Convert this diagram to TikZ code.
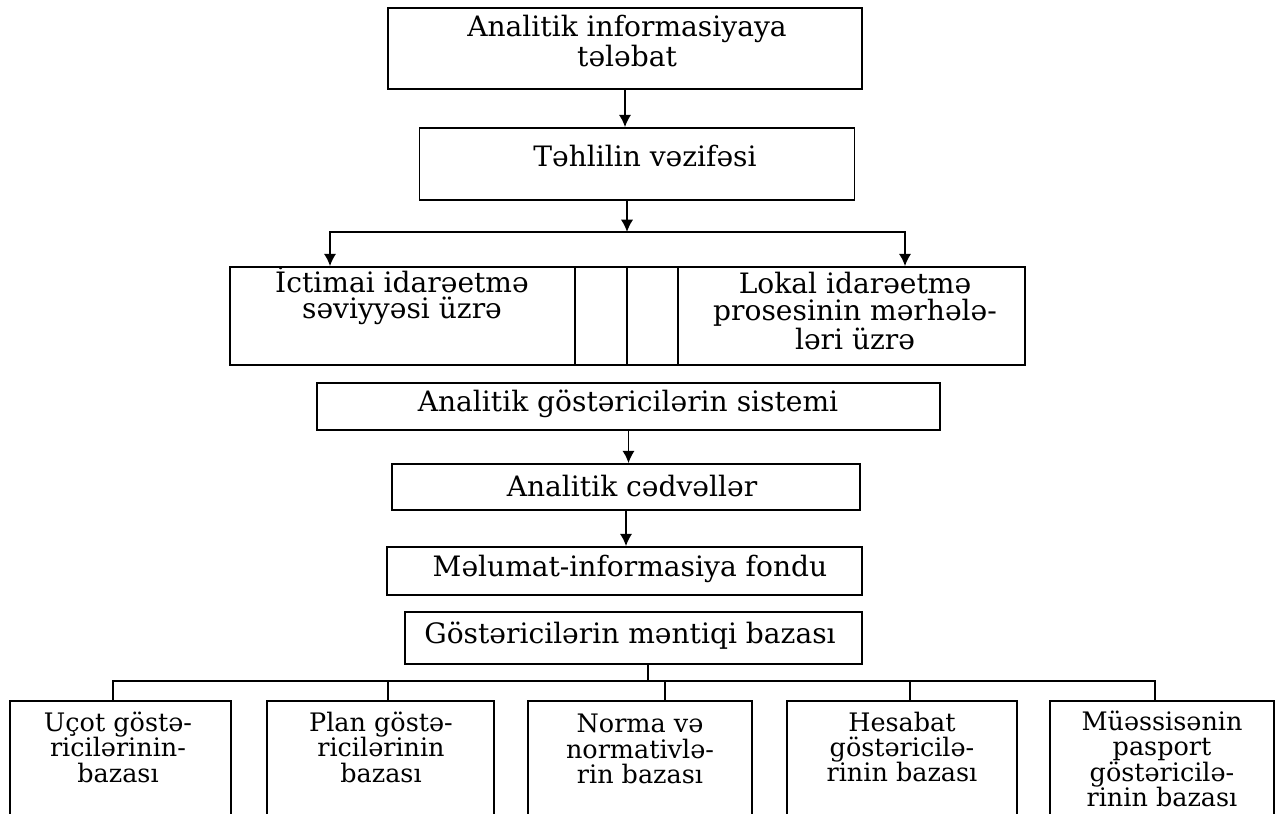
\documentclass[tikz,border=0pt]{standalone}
\usepackage{fontspec}
\setmainfont{DejaVu Serif}
\usetikzlibrary{arrows.meta}

\begin{document}
\begin{tikzpicture}[x=0.02cm, y=-0.02cm, line width=1pt,
  box/.style={draw, inner sep=0pt},
  txt/.style={align=center, inner sep=0pt, font=\fontsize{16}{15}\selectfont},
  small/.style={txt, font=\fontsize{14.5}{14.5}\selectfont},
  arr/.style={-{Latex[length=7pt,width=7pt]}}]
\useasboundingbox (0,0) rectangle (1281,814);
\clip (0,0) rectangle (1281,814);

% Top chain
\node[box, minimum width=9.48cm, minimum height=1.62cm] (need) at (625,48.5) {};
\node[txt] (need-t) at (627,41) {Analitik informasiyaya\\tələbat};
\node[box, minimum width=8.7cm, minimum height=1.44cm] (task) at (637,164) {};
\node[txt] (task-t) at (645,156) {Təhlilin vəzifəsi};
\draw[arr] (need.south) -- (need.south |- task.north);

% Two levels
\node[box, minimum width=6.9cm, minimum height=1.96cm] (soc) at (402.5,316) {};
\node[box, minimum width=1.04cm, minimum height=1.96cm] (gap1) at (601,316) {};
\node[box, minimum width=1.02cm, minimum height=1.96cm] (gap2) at (652.5,316) {};
\node[box, minimum width=6.94cm, minimum height=1.96cm] (loc) at (851.5,316) {};
\node[txt] (soc-t) at (402,296) {İctimai idarəetmə\\səviyyəsi üzrə};
\node[txt] (loc-t) at (855,311) {Lokal idarəetmə\\prosesinin mərhələ-\\ləri üzrə};

% Split
\coordinate (split) at (627,232);
\coordinate (barL) at (330,232);
\coordinate (barR) at (905,232);
\draw[arr] (split |- task.south) -- (split);
\draw[{Latex[length=7pt,width=7pt]}-{Latex[length=7pt,width=7pt]}] (barL |- soc.north) -- (barL) -- (barR) -- (barR |- loc.north);

% Lower chain
\node[box, minimum width=12.46cm, minimum height=0.94cm] (sys) at (628.5,406.5) {};
\node[txt] (sys-t) at (628,404) {Analitik göstəricilərin sistemi};
\node[box, minimum width=9.36cm, minimum height=0.92cm] (tab) at (626,487) {};
\node[txt] (tab-t) at (632,486) {Analitik cədvəllər};
\node[box, minimum width=9.5cm, minimum height=0.96cm] (fund) at (624.5,571) {};
\node[txt] (fund-t) at (630,569) {Məlumat-informasiya fondu};
\node[box, minimum width=9.14cm, minimum height=1.04cm] (base) at (633.5,638) {};
\node[txt] (base-t) at (630,636) {Göstəricilərin məntiqi bazası};
\draw[arr] (sys.south) -- (sys.south |- tab.north);
\draw[arr] (tab.south) -- (tab.south |- fund.north);

% Bases
\node[box, minimum width=4.42cm, minimum height=2.64cm, anchor=north] (b1) at (120.5,700) {};
\node[box, minimum width=4.54cm, minimum height=2.64cm, anchor=north] (b2) at (380.5,700) {};
\node[box, minimum width=4.48cm, minimum height=2.64cm, anchor=north] (b3) at (640,700) {};
\node[box, minimum width=4.6cm, minimum height=2.64cm, anchor=north] (b4) at (902,700) {};
\node[box, minimum width=4.48cm, minimum height=2.64cm, anchor=north] (b5) at (1162,700) {};
\node[small] (b1-t) at (118,747) {Uçot göstə-\\ricilərinin-\\bazası};
\node[small] (b2-t) at (381,747) {Plan göstə-\\ricilərinin\\bazası};
\node[small] (b3-t) at (640,749) {Norma və\\normativlə-\\rin bazası};
\node[small] (b4-t) at (902,747) {Hesabat\\göstəricilə-\\rinin bazası};
\node[small] (b5-t) at (1162,759) {Müəssisənin\\pasport\\göstəricilə-\\rinin bazası};

% Tree
\coordinate (stem) at (648,681);
\coordinate (treeL) at (113,681);
\coordinate (treeR) at (1155,681);
\draw (stem |- base.south) -- (stem);
\draw (treeL |- b1.north) -- (treeL) -- (treeR) -- (treeR |- b5.north);
\draw ([xshift=0.15cm]b2.north) |- (treeL);
\draw ([xshift=0.5cm]b3.north) |- (treeL);
\draw ([xshift=0.16cm]b4.north) |- (treeL);
\end{tikzpicture}
\end{document}
